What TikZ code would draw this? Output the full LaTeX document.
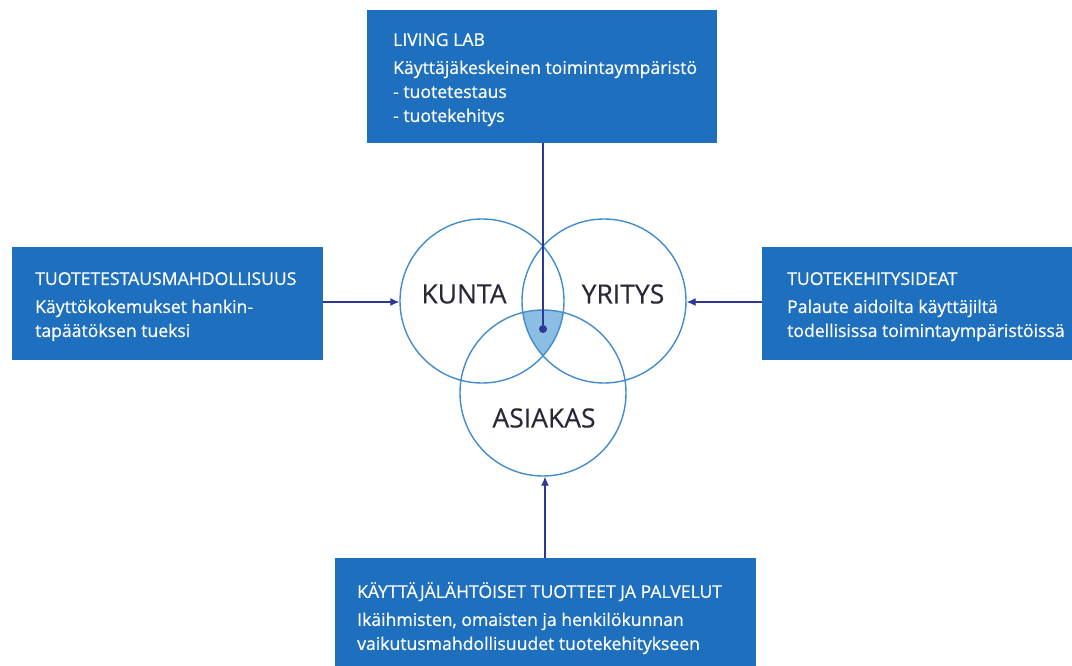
\documentclass[tikz,border=0pt]{standalone}
\usepackage{fontspec}
\setmainfont{Open Sans}
\newfontfamily\boxfont{Open Sans}[FakeBold=0.6]
\newfontfamily\labelfont{Open Sans}[FakeBold=0.3]
\usetikzlibrary{arrows.meta}
\definecolor{boxblue}{RGB}{30,112,190}
\definecolor{ringblue}{RGB}{66,140,205}
\definecolor{fillblue}{RGB}{140,190,228}
\definecolor{linkblue}{RGB}{45,55,150}
\definecolor{labelgray}{RGB}{40,40,55}
\tikzset{
  infobox/.style={fill=boxblue, draw=none, inner sep=0pt, anchor=north west},
  infotext/.style={text=white, align=left, anchor=north west, inner sep=0pt,
    font=\boxfont\fontsize{17.6}{24}\selectfont},
  ring/.style={draw=ringblue, line width=1.4pt},
  ringlabel/.style={text=labelgray, font=\labelfont\fontsize{26.5}{30}\selectfont, inner sep=0pt},
  link/.style={draw=linkblue, line width=1.1pt},
  linkarrow/.style={link, -{Latex[length=9pt,width=8pt]}}
}
\newcommand{\ttl}[1]{#1\\[4pt]}
\begin{document}
\begin{tikzpicture}[x=1pt,y=-1pt]
\useasboundingbox (0,0) rectangle (1072,666);
% boxes
\node[infobox, minimum width=350pt, minimum height=133pt] (topbox) at (367,10) {};
\node[infobox, minimum width=311pt, minimum height=113pt] (leftbox) at (12,247) {};
\node[infobox, minimum width=310pt, minimum height=113pt] (rightbox) at (762,247) {};
\node[infobox, minimum width=421pt, minimum height=108pt] (bottombox) at (335,558) {};
% texts
\node[infotext] (toptext) at (393,33) {\ttl{LIVING LAB}K\"aytt\"aj\"akeskeinen toimintaymp\"arist\"o\\- tuotetestaus\\- tuotekehitys};
\node[infotext] (lefttext) at (35,272) {\ttl{TUOTETESTAUSMAHDOLLISUUS}K\"aytt\"okokemukset hankin-\\tap\"a\"at\"oksen tueksi};
\node[infotext] (righttext) at (787,272) {\ttl{TUOTEKEHITYSIDEAT}Palaute aidoilta k\"aytt\"ajilt\"a\\todellisissa toimintaymp\"arist\"oiss\"a};
\node[infotext] (bottomtext) at (357,582) {\ttl{K\"AYTT\"AJ\"AL\"AHT\"OISET TUOTTEET JA PALVELUT}Ik\"aihmisten, omaisten ja henkil\"okunnan\\vaikutusmahdollisuudet tuotekehitykseen};
% circles
\coordinate (ck) at (482,301);
\coordinate (cy) at (604,301);
\coordinate (ca) at (543,393);
\begin{scope}
  \clip (ck) circle (82);
  \clip (cy) circle (82);
  \fill[fillblue] (ca) circle (83);
\end{scope}
\node[ring, circle, minimum size=164pt, inner sep=0pt] (kunta) at (ck) {};
\node[ring, circle, minimum size=164pt, inner sep=0pt] (yritys) at (cy) {};
\node[ring, circle, minimum size=166pt, inner sep=0pt] (asiakas) at (ca) {};
\node[ringlabel] (kuntalabel) at (464,294) {KUNTA};
\node[ringlabel] (yrityslabel) at (623,294) {YRITYS};
\node[ringlabel] (asiakaslabel) at (544,418) {ASIAKAS};
% center dot
\node[circle, fill=linkblue, minimum size=8pt, inner sep=0pt] (dot) at (543,329) {};
% connectors
\draw[link] (topbox.south -| dot) -- (dot);
\draw[linkarrow] (leftbox.east |- 0,302) -- (kunta.west |- 0,302);
\draw[linkarrow] (rightbox.west |- 0,302) -- (yritys.east |- 0,302);
\draw[linkarrow] (bottombox.north -| 545,0) -- (asiakas.south -| 545,0);
\end{tikzpicture}
\end{document}
